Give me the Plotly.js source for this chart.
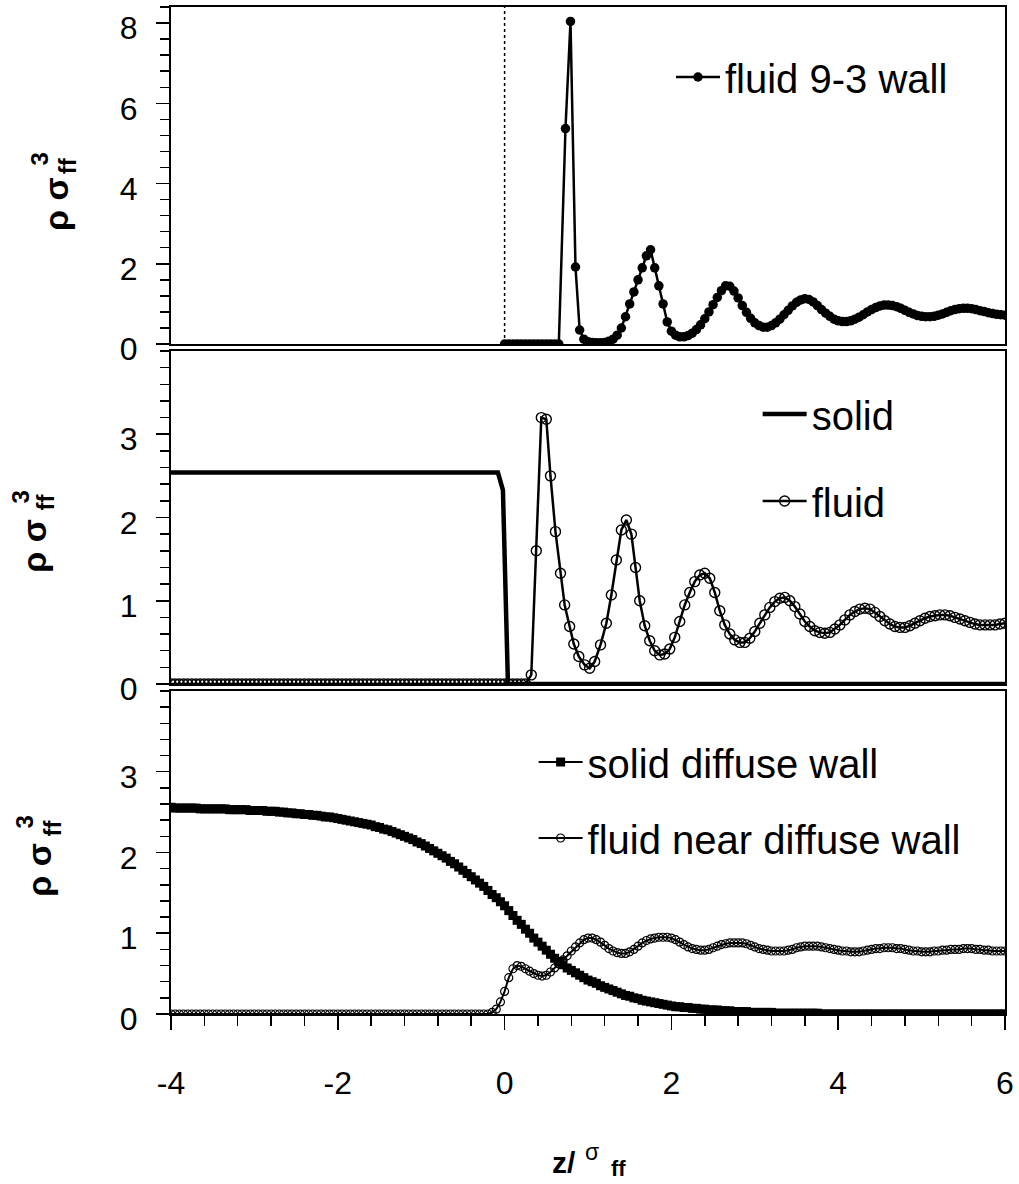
<!DOCTYPE html>
<html>
<head>
<meta charset="utf-8">
<script src="https://cdn.plot.ly/plotly-3.0.1.min.js"></script>
<style>
  html, body { margin: 0; padding: 0; background: #ffffff; }
  #chart { width: 1019px; height: 1184px; }
</style>
</head>
<body>
<div id="chart"></div>
<script>
// ---------------- DATA ----------------
// shared z/sigma_ff grid (step 0.05) used by several series
const zGrid = [
  -4,-3.95,-3.9,-3.85,-3.8,-3.75,-3.7,-3.65,-3.6,-3.55,-3.5,-3.45,-3.4,-3.35,-3.3,-3.25,-3.2,-3.15,-3.1,-3.05,
  -3,-2.95,-2.9,-2.85,-2.8,-2.75,-2.7,-2.65,-2.6,-2.55,-2.5,-2.45,-2.4,-2.35,-2.3,-2.25,-2.2,-2.15,-2.1,-2.05,
  -2,-1.95,-1.9,-1.85,-1.8,-1.75,-1.7,-1.65,-1.6,-1.55,-1.5,-1.45,-1.4,-1.35,-1.3,-1.25,-1.2,-1.15,-1.1,-1.05,
  -1,-0.95,-0.9,-0.85,-0.8,-0.75,-0.7,-0.65,-0.6,-0.55,-0.5,-0.45,-0.4,-0.35,-0.3,-0.25,-0.2,-0.15,-0.1,-0.05,
  0,0.05,0.1,0.15,0.2,0.25,0.3,0.35,0.4,0.45,0.5,0.55,0.6,0.65,0.7,0.75,0.8,0.85,0.9,0.95,
  1,1.05,1.1,1.15,1.2,1.25,1.3,1.35,1.4,1.45,1.5,1.55,1.6,1.65,1.7,1.75,1.8,1.85,1.9,1.95,
  2,2.05,2.1,2.15,2.2,2.25,2.3,2.35,2.4,2.45,2.5,2.55,2.6,2.65,2.7,2.75,2.8,2.85,2.9,2.95,
  3,3.05,3.1,3.15,3.2,3.25,3.3,3.35,3.4,3.45,3.5,3.55,3.6,3.65,3.7,3.75,3.8,3.85,3.9,3.95,
  4,4.05,4.1,4.15,4.2,4.25,4.3,4.35,4.4,4.45,4.5,4.55,4.6,4.65,4.7,4.75,4.8,4.85,4.9,4.95,
  5,5.05,5.1,5.15,5.2,5.25,5.3,5.35,5.4,5.45,5.5,5.55,5.6,5.65,5.7,5.75,5.8,5.85,5.9,5.95,
  6
];

// Panel 1: fluid near 9-3 wall
const wall93X = zGrid.slice(80, 94).concat([0.73, 0.79, 0.85, 0.9]).concat(zGrid.slice(99));
const wall93Y = [
  0,0,0,0,0,0,0,0,0,0,0,0,0,0,
  5.37,8.04,1.92,0.35,
  0.12,0.06,
  0.04,0.03,0.03,0.04,0.07,0.12,0.22,0.40,0.68,1.00,1.30,1.60,1.90,2.20,2.35,1.90,1.45,1.00,0.55,0.32,
  0.22,0.18,0.18,0.21,0.27,0.36,0.48,0.63,0.80,0.98,1.16,1.33,1.45,1.44,1.32,1.15,0.96,0.79,0.64,0.53,
  0.46,0.42,0.42,0.46,0.53,0.62,0.73,0.84,0.95,1.04,1.10,1.13,1.11,1.05,0.96,0.86,0.77,0.69,0.62,0.58,
  0.56,0.56,0.58,0.62,0.67,0.73,0.80,0.86,0.91,0.95,0.97,0.97,0.96,0.93,0.89,0.84,0.79,0.75,0.71,0.69,
  0.68,0.68,0.69,0.72,0.75,0.79,0.83,0.86,0.88,0.89,0.89,0.88,0.86,0.83,0.81,0.78,0.76,0.74,0.73,0.72
];
// wall position marker (dotted line at z = 0)
const wallLineX = [0, 0];
const wallLineY = [0, 8.4];

// Panel 2: solid (sharp) and fluid
const solidX = [-4, -0.08, -0.02, 0.04, 6];
const solidY = [2.54, 2.54, 2.33, 0, 0];

const fluidX = zGrid.slice(0, 86).concat([
  0.32,0.38,0.44,0.50,0.55,0.61,0.67,0.72,0.78,0.83,
  0.89,0.96,1.02,1.08,1.15,1.22,1.28,1.34,1.40,1.46,
  1.52,1.57,1.62,1.68,1.74,1.80,1.86,1.92,1.98,2.04,
  2.10,2.16,2.22,2.28,2.34,2.40,2.46,2.52,2.58,2.64,
  2.70,2.76,2.82,2.88,2.94,3.00,3.06,3.12,3.18,3.24,
  3.30,3.36,3.42,3.48,3.54,3.60,3.66,3.72,3.78,3.84,
  3.90,3.96,4.02,4.08,4.14,4.20,4.26,4.32,4.38,4.44,
  4.50,4.56,4.62,4.68,4.74,4.80,4.86,4.92,4.98,5.04,
  5.10,5.16,5.22,5.28,5.34,5.40,5.46,5.52,5.58,5.64,
  5.70,5.76,5.82,5.88,5.94,6.00
]);
const fluidY = [
  0,0,0,0,0,0,0,0,0,0,0,0,0,0,0,0,0,0,0,0,
  0,0,0,0,0,0,0,0,0,0,0,0,0,0,0,0,0,0,0,0,
  0,0,0,0,0,0,0,0,0,0,0,0,0,0,0,0,0,0,0,0,
  0,0,0,0,0,0,0,0,0,0,0,0,0,0,0,0,0,0,0,0,
  0,0,0,0,0,0,
  0.11,1.60,3.20,3.18,2.50,1.83,1.33,0.95,0.69,0.48,
  0.33,0.23,0.19,0.27,0.47,0.73,1.07,1.49,1.85,1.97,
  1.80,1.40,1.00,0.70,0.52,0.40,0.35,0.36,0.42,0.56,
  0.75,0.95,1.10,1.23,1.31,1.33,1.27,1.10,0.88,0.71,
  0.60,0.53,0.50,0.50,0.55,0.63,0.73,0.83,0.92,0.99,
  1.03,1.04,1.00,0.93,0.84,0.75,0.69,0.64,0.62,0.61,
  0.62,0.66,0.71,0.77,0.83,0.87,0.90,0.91,0.90,0.86,
  0.81,0.76,0.72,0.69,0.68,0.68,0.70,0.73,0.76,0.79,
  0.81,0.82,0.83,0.83,0.82,0.80,0.78,0.76,0.74,0.72,
  0.71,0.71,0.71,0.71,0.72,0.73
];

// Panel 3: diffuse wall (solid) and fluid near it, on zGrid
const diffuseSolidY = [
  2.56,2.55,2.55,2.55,2.55,2.55,2.55,2.54,2.54,2.54,2.54,2.54,2.54,2.54,2.53,2.53,2.53,2.53,2.53,2.52,
  2.52,2.52,2.52,2.51,2.51,2.51,2.50,2.50,2.49,2.49,2.48,2.48,2.47,2.47,2.46,2.46,2.45,2.44,2.44,2.43,
  2.42,2.41,2.40,2.39,2.38,2.37,2.36,2.35,2.34,2.32,2.31,2.29,2.28,2.26,2.24,2.22,2.20,2.18,2.16,2.13,
  2.11,2.08,2.05,2.02,1.99,1.96,1.93,1.89,1.86,1.82,1.78,1.74,1.70,1.66,1.62,1.58,1.53,1.48,1.44,1.39,
  1.34,1.28,1.22,1.16,1.11,1.05,1.00,0.94,0.89,0.84,0.79,0.74,0.69,0.65,0.61,0.57,0.54,0.51,0.48,0.45,
  0.42,0.40,0.38,0.35,0.33,0.31,0.29,0.27,0.25,0.23,0.22,0.20,0.19,0.17,0.16,0.15,0.14,0.13,0.12,0.11,
  0.10,0.09,0.09,0.08,0.08,0.07,0.07,0.06,0.06,0.05,0.05,0.05,0.04,0.04,0.04,0.03,0.03,0.03,0.03,0.02,
  0.02,0.02,0.02,0.02,0.02,0.01,0.01,0.01,0.01,0.01,0.01,0.01,0.01,0.01,0.01,0.01,0,0,0,0,
  0,0,0,0,0,0,0,0,0,0,0,0,0,0,0,0,0,0,0,0,
  0,0,0,0,0,0,0,0,0,0,0,0,0,0,0,0,0,0,0,0,
  0
];
const diffuseFluidY = [
  0,0,0,0,0,0,0,0,0,0,0,0,0,0,0,0,0,0,0,0,
  0,0,0,0,0,0,0,0,0,0,0,0,0,0,0,0,0,0,0,0,
  0,0,0,0,0,0,0,0,0,0,0,0,0,0,0,0,0,0,0,0,
  0,0,0,0,0,0,0,0,0,0,0,0,0,0,0,0,0,0.02,0.06,0.15,
  0.28,0.45,0.56,0.60,0.59,0.56,0.53,0.50,0.48,0.47,0.48,0.52,0.57,0.62,0.67,0.72,0.78,0.83,0.88,0.92,
  0.94,0.94,0.92,0.89,0.85,0.81,0.78,0.76,0.75,0.75,0.77,0.80,0.84,0.88,0.91,0.93,0.94,0.95,0.95,0.95,
  0.94,0.92,0.89,0.86,0.83,0.81,0.80,0.79,0.79,0.80,0.82,0.84,0.86,0.87,0.88,0.88,0.88,0.88,0.87,0.85,
  0.83,0.81,0.80,0.79,0.78,0.78,0.78,0.78,0.79,0.80,0.82,0.83,0.84,0.84,0.84,0.84,0.83,0.82,0.81,0.80,
  0.79,0.78,0.78,0.77,0.77,0.77,0.78,0.79,0.80,0.81,0.81,0.82,0.82,0.82,0.81,0.81,0.80,0.79,0.78,0.78,
  0.77,0.77,0.77,0.78,0.78,0.79,0.79,0.80,0.80,0.80,0.81,0.81,0.81,0.80,0.80,0.79,0.79,0.78,0.78,0.78,
  0.78
];

const seriesNames = ['fluid 9-3 wall', 'solid', 'fluid', 'solid diffuse wall', 'fluid near diffuse wall'];
const xTickVals = [-4, -2, 0, 2, 4, 6];
const xTickText = ['-4', '-2', '0', '2', '4', '6'];
const yTickVals1 = [0, 2, 4, 6, 8];
const yTickVals23 = [0, 1, 2, 3];

// ---------------- STYLE ----------------
const FONT = 'Liberation Sans, Arial, Helvetica, sans-serif';
const BLACK = '#000000';

const traces = [
  { x: wallLineX, y: wallLineY, xaxis: 'x', yaxis: 'y', mode: 'lines', showlegend: false,
    line: { color: BLACK, width: 1.5, dash: 'dot' }, hoverinfo: 'skip' },
  { x: wall93X, y: wall93Y, xaxis: 'x', yaxis: 'y', mode: 'lines+markers', name: seriesNames[0],
    legend: 'legend', line: { color: BLACK, width: 2.5 },
    marker: { symbol: 'circle', size: 9.5, color: BLACK } },

  { x: solidX, y: solidY, xaxis: 'x2', yaxis: 'y2', mode: 'lines', name: seriesNames[1],
    legend: 'legend2', legendgroup: 'a', line: { color: BLACK, width: 4.5 } },
  { x: fluidX, y: fluidY, xaxis: 'x2', yaxis: 'y2', mode: 'lines+markers', name: seriesNames[2],
    legend: 'legend2', legendgroup: 'b', line: { color: BLACK, width: 2.5 },
    marker: { symbol: 'circle-open', size: 10, color: BLACK, line: { width: 1.4, color: BLACK } } },

  { x: zGrid, y: diffuseSolidY, xaxis: 'x3', yaxis: 'y3', mode: 'lines+markers', name: seriesNames[3],
    legend: 'legend3', legendgroup: 'c', line: { color: BLACK, width: 2 },
    marker: { symbol: 'square', size: 9, color: BLACK } },
  { x: zGrid, y: diffuseFluidY, xaxis: 'x3', yaxis: 'y3', mode: 'lines+markers', name: seriesNames[4],
    legend: 'legend3', legendgroup: 'd', line: { color: BLACK, width: 2 },
    marker: { symbol: 'circle-open', size: 8, color: BLACK, line: { width: 1.2, color: BLACK } } }
];

function xAx(anchor, bottom) {
  const a = {
    anchor: anchor, range: [-4, 6], showline: true, mirror: true, linewidth: 2, linecolor: BLACK,
    showgrid: false, zeroline: false, fixedrange: true
  };
  if (bottom) {
    Object.assign(a, {
      tickmode: 'array', tickvals: xTickVals, ticktext: xTickText,
      ticks: 'outside', ticklen: 14, tickwidth: 1.5, tickcolor: BLACK,
      ticklabelstandoff: 26, tickfont: { family: FONT, size: 32, color: BLACK },
      minor: { tickmode: 'linear', tick0: -4, dtick: 0.4, ticks: 'outside', ticklen: 10, tickwidth: 1.5, tickcolor: BLACK }
    });
  } else {
    Object.assign(a, { showticklabels: false, ticks: '' });
  }
  return a;
}
function yAx(anchor, domain, range, tickvals, minorStep) {
  return {
    anchor: anchor, domain: domain, range: range, tickmode: 'array', tickvals: tickvals,
    showline: true, mirror: true, linewidth: 2, linecolor: BLACK,
    showgrid: false, zeroline: false, fixedrange: true,
    ticks: 'outside', ticklen: 13, tickwidth: 1.5, tickcolor: BLACK,
    ticklabelstandoff: 12, ticklabelshift: 5, ticklabeloverflow: 'allow',
    tickfont: { family: FONT, size: 32, color: BLACK },
    minor: { tickmode: 'linear', tick0: 0, dtick: minorStep, ticks: 'outside', ticklen: 9, tickwidth: 1.5, tickcolor: BLACK }
  };
}

function legendCfg(x, y, gap) {
  return {
    x: x, y: y, xanchor: 'left', yanchor: 'middle', bgcolor: 'rgba(0,0,0,0)', borderwidth: 0,
    font: { family: FONT, size: 40, color: BLACK }, itemwidth: 44, tracegroupgap: gap,
    traceorder: 'grouped'
  };
}

function rot(text, x, y, size) {
  return { text: text, xref: 'paper', yref: 'paper', x: x, y: y, textangle: -90, showarrow: false,
    xanchor: 'center', yanchor: 'middle', font: { family: FONT, size: size, color: BLACK } };
}
function flat(text, x, y, size, yanchor) {
  return { text: text, xref: 'paper', yref: 'paper', x: x, y: y, showarrow: false,
    xanchor: 'center', yanchor: yanchor || 'middle', font: { family: FONT, size: size, color: BLACK } };
}

const layout = {
  width: 1019, height: 1184,
  margin: { l: 171, r: 14, t: 7, b: 170, pad: 0 },
  paper_bgcolor: '#ffffff', plot_bgcolor: '#ffffff',
  font: { family: FONT, color: BLACK },
  showlegend: true,
  xaxis: xAx('y', false),
  yaxis: yAx('x', [0.6653, 1], [0, 8.4], yTickVals1, 0.4),
  xaxis2: xAx('y2', false),
  yaxis2: yAx('x2', [0.3277, 0.6584], [0, 4], yTickVals23, 0.2),
  xaxis3: xAx('y3', true),
  yaxis3: yAx('x3', [0, 0.3208], [0, 4], yTickVals23, 0.2),
  legend: legendCfg(0.5995, 0.9305, 0),
  legend2: legendCfg(0.7034, 0.5526, 32),
  legend3: legendCfg(0.4348, 0.2125, 21),
  annotations: [
    rot('<b>ρ σ</b>', -0.138, 0.8044, 34),
    rot('<b>ff</b>', -0.1245, 0.8421, 24),
    rot('<b>3</b>', -0.1575, 0.8491, 24),

    rot('<b>ρ σ</b>', -0.1645, 0.4647, 34),
    rot('<b>ff</b>', -0.1506, 0.5084, 24),
    rot('<b>3</b>', -0.1805, 0.5134, 24),

    rot('<b>ρ σ</b>', -0.1585, 0.1430, 34),
    rot('<b>ff</b>', -0.1422, 0.1847, 24),
    rot('<b>3</b>', -0.1757, 0.1907, 24),

    flat('<b>z/</b>', 0.4712, -0.1475, 30),
    flat('σ', 0.5048, -0.137, 23),
    flat('<b>ff</b>', 0.536, -0.1678, 22, 'bottom')
  ]
};

Plotly.newPlot('chart', traces, layout, { staticPlot: true, displayModeBar: false });
</script>
</body>
</html>
